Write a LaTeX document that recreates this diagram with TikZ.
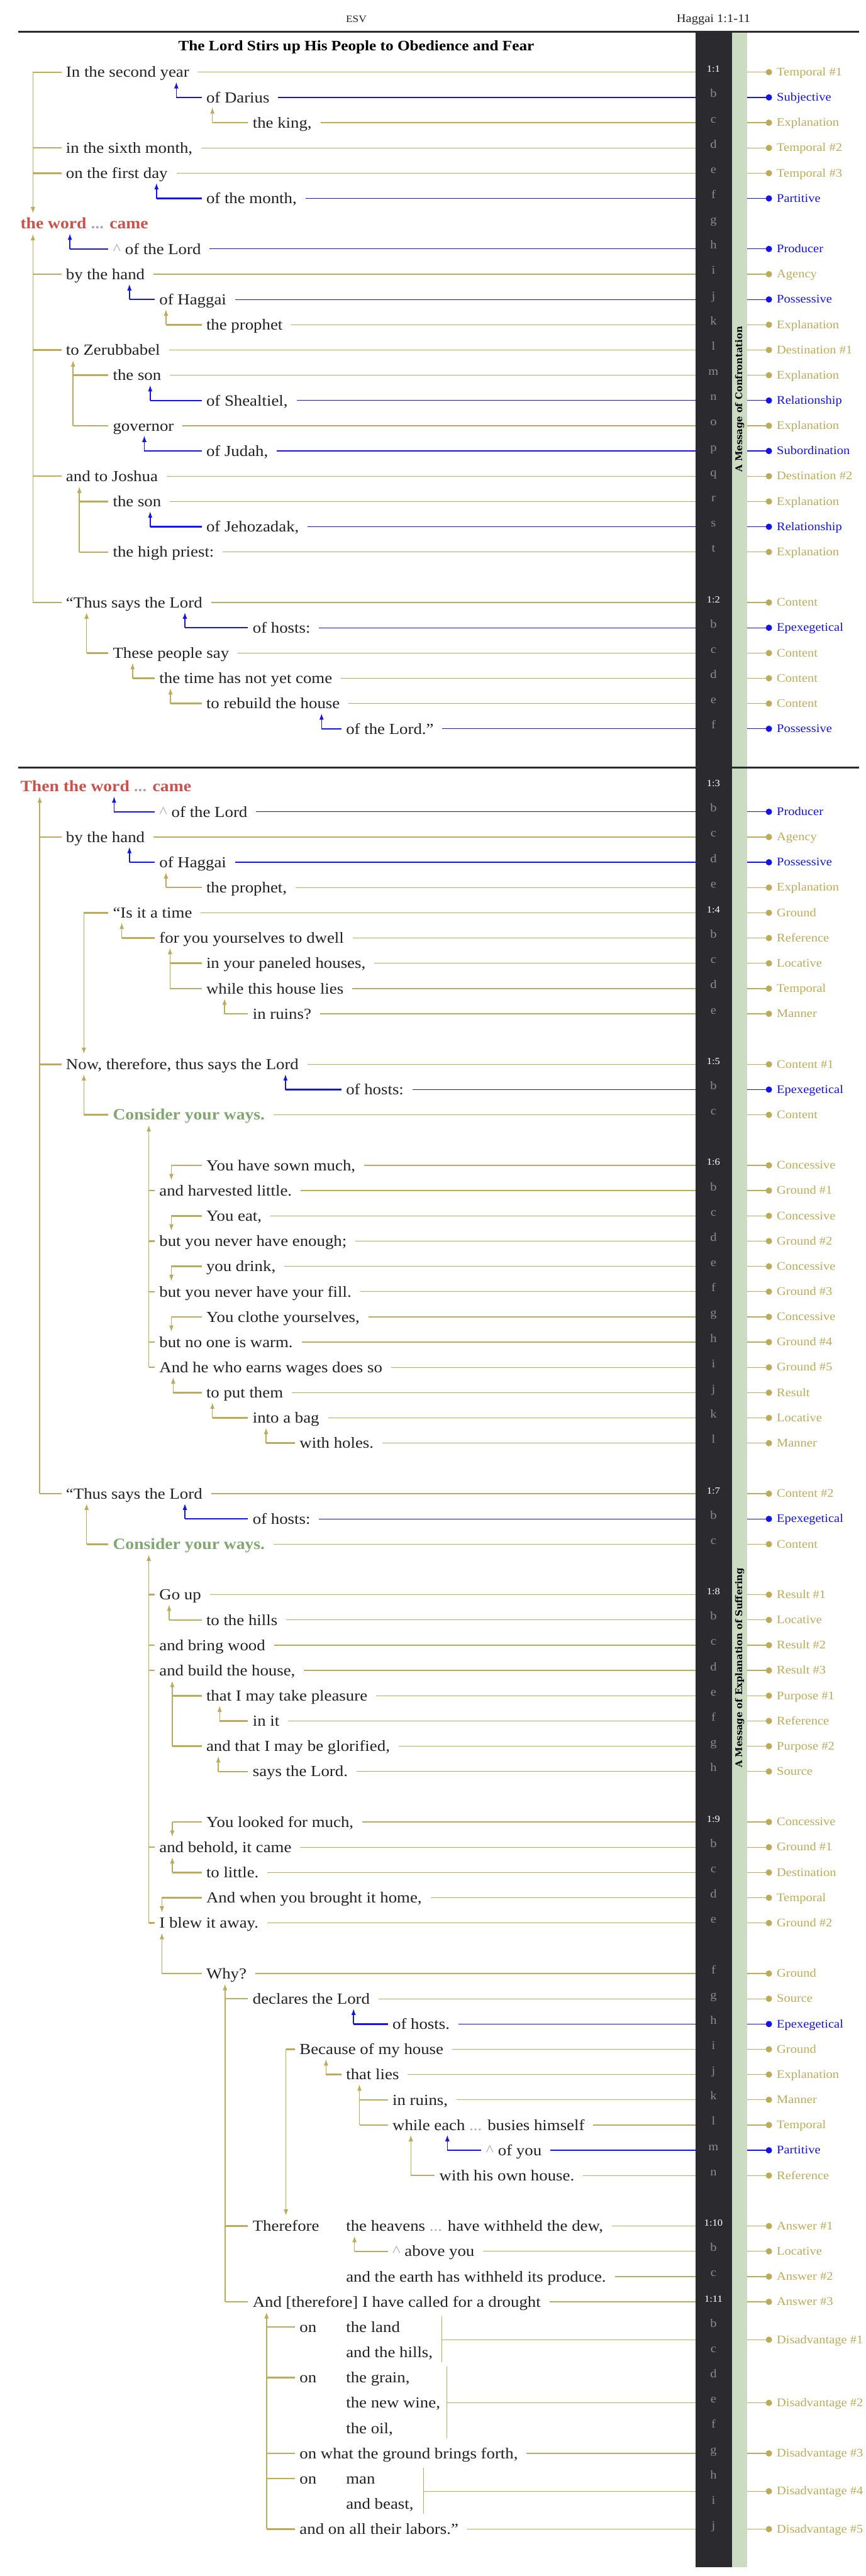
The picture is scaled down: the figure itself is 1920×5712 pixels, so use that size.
\documentclass[tikz,border=0pt]{standalone}
\usepackage{fontspec}
\setmainfont{Liberation Serif}[FakeStretch=1.1]
\newfontfamily\vfont{DejaVu Serif}
\usetikzlibrary{arrows.meta}
\definecolor{gold}{HTML}{BDAB58}
\definecolor{blu}{HTML}{1414E6}
\definecolor{redw}{HTML}{C9524A}
\definecolor{grn}{HTML}{82A872}
\definecolor{dbar}{HTML}{2B2B2F}
\definecolor{gbar}{HTML}{CBDCC3}
\definecolor{ltr}{HTML}{8C8C8C}
\definecolor{ell}{HTML}{AAAAAA}
\definecolor{ink}{HTML}{222222}
\tikzset{
  txt/.style={anchor=west, inner sep=0pt, text height=11.5pt, text depth=0pt, font=\fontsize{17}{20}\selectfont, text=ink},
  lab/.style={anchor=west, inner sep=0pt, text height=8pt, text depth=0pt, font=\fontsize{13}{15}\selectfont},
  dot/.style={circle, inner sep=0pt, minimum size=7pt},
  conn/.style={line width=0.9pt},
  stub/.style={line width=1.7pt},
  vl/.style={line width=1pt},
  tip/.style={-{Latex[length=7pt,width=5pt]}},
  thinl/.style={line width=0.6pt, color=gold},
  barl/.style={anchor=base, inner sep=0pt, text=ltr, font=\fontsize{13}{15}\selectfont},
  vnum/.style={anchor=base, inner sep=0pt, text=white, font=\fontsize{10.5}{12}\selectfont},
  redt/.style={font=\fontsize{17.5}{20}\selectfont\bfseries, text=redw},
  cyw/.style={font=\fontsize{17.5}{20}\selectfont\bfseries, text=grn},
}
\newcommand\myel{\textcolor{ell}{...}}
\newcommand\mycaret{\textcolor{ell}{\textasciicircum}\ }
\newcommand\MyRow[7][]{%
  \node[txt,#1] (t#2) at (#4,#3) {#5};
  \node[dot,fill=#6] (d#2) at (1705,#3) {};
  \node[lab,text=#6] (l#2) at (1722,#3) {#7};
  \draw[conn,draw=#6] ([xshift=9.5pt]t#2.east) -- (d#2.center);
}
\newcommand\MyStub[3]{\draw[stub,color=#3] ([xshift=-5pt]#1.west) -- (#2,0 |- #1.west);}
\newcommand\MyUp[4][34]{%
  \draw[stub,color=#4] ([xshift=-5pt]#2.west) -- (#3,0 |- #2.west);
  \draw[vl,tip,color=#4] (#3,0 |- #2.west) -- ++(0,-#1);
}
\newcommand\MyDown[4][33]{%
  \draw[stub,color=#4] ([xshift=-5pt]#2.west) -- (#3,0 |- #2.west);
  \draw[vl,tip,color=#4] (#3,0 |- #2.west) -- ++(0,#1);
}
\begin{document}
\begin{tikzpicture}[x=0.5pt,y=-0.5pt]
\fill[white] (0,0) rectangle (1920,5712);
\useasboundingbox (0,0) rectangle (1920,5712);

% ---------- Section 1 ----------
\MyRow{1a}{160}{146}{In the second year}{gold}{Temporal \#1}
\MyRow{1b}{216}{457}{of Darius}{blu}{Subjective}
\MyRow{1c}{272}{560}{the king,}{gold}{Explanation}
\MyRow{1d}{328}{146}{in the sixth month,}{gold}{Temporal \#2}
\MyRow{1e}{384}{146}{on the first day}{gold}{Temporal \#3}
\MyRow{1f}{440}{457}{of the month,}{blu}{Partitive}
\node[txt,redt] (t1g) at (45,496) {the word \myel{} came};
\MyRow{1h}{552}{250}{\mycaret of the Lord}{blu}{Producer}
\MyRow{1i}{608}{146}{by the hand}{gold}{Agency}
\MyRow{1j}{664}{353}{of Haggai}{blu}{Possessive}
\MyRow{1k}{720}{457}{the prophet}{gold}{Explanation}
\MyRow{1l}{776}{146}{to Zerubbabel}{gold}{Destination \#1}
\MyRow{1m}{832}{250}{the son}{gold}{Explanation}
\MyRow{1n}{888}{457}{of Shealtiel,}{blu}{Relationship}
\MyRow{1o}{944}{250}{governor}{gold}{Explanation}
\MyRow{1p}{1000}{457}{of Judah,}{blu}{Subordination}
\MyRow{1q}{1056}{146}{and to Joshua}{gold}{Destination \#2}
\MyRow{1r}{1112}{250}{the son}{gold}{Explanation}
\MyRow{1s}{1168}{457}{of Jehozadak,}{blu}{Relationship}
\MyRow{1t}{1224}{250}{the high priest:}{gold}{Explanation}
\MyRow{2a}{1336}{146}{“Thus says the Lord}{gold}{Content}
\MyRow{2b}{1392}{560}{of hosts:}{blu}{Epexegetical}
\MyRow{2c}{1448}{250}{These people say}{gold}{Content}
\MyRow{2d}{1504}{353}{the time has not yet come}{gold}{Content}
\MyRow{2e}{1560}{457}{to rebuild the house}{gold}{Content}
\MyRow{2f}{1616}{767}{of the Lord.”}{blu}{Possessive}

\draw[vl,tip,color=gold] (73,0 |- t1a.west) -- (73,473);
\MyStub{t1a}{73}{gold}\MyStub{t1d}{73}{gold}\MyStub{t1e}{73}{gold}
\MyUp{t1b}{391}{blu}
\MyUp{t1c}{471}{gold}
\MyUp{t1f}{347}{blu}
\MyUp{t1h}{155}{blu}
\draw[vl,tip,color=gold] (73,0 |- t2a.west) -- (73,519);
\MyStub{t1i}{73}{gold}\MyStub{t1l}{73}{gold}\MyStub{t1q}{73}{gold}\MyStub{t2a}{73}{gold}
\MyUp{t1j}{287}{blu}
\MyUp{t1k}{368}{gold}
\draw[vl,tip,color=gold] (162,0 |- t1o.west) -- (162,799);
\MyStub{t1m}{162}{gold}\MyStub{t1o}{162}{gold}
\MyUp{t1n}{333}{blu}
\MyUp{t1p}{320}{blu}
\draw[vl,tip,color=gold] (176,0 |- t1t.west) -- (176,1079);
\MyStub{t1r}{176}{gold}\MyStub{t1t}{176}{gold}
\MyUp{t1s}{333}{blu}
\MyUp{t2b}{410}{blu}
\MyUp[90]{t2c}{192}{gold}
\MyUp{t2d}{294}{gold}
\MyUp{t2e}{378}{gold}
\MyUp{t2f}{713}{blu}

% ---------- Section 2 ----------
\node[txt,redt] (t3a) at (45,1744) {Then the word \myel{} came};
\MyRow{3b}{1800}{353}{\mycaret of the Lord}{blu}{Producer}
\MyRow{3c}{1856}{146}{by the hand}{gold}{Agency}
\MyRow{3d}{1912}{353}{of Haggai}{blu}{Possessive}
\MyRow{3e}{1968}{457}{the prophet,}{gold}{Explanation}
\MyRow{4a}{2024}{250}{“Is it a time}{gold}{Ground}
\MyRow{4b}{2080}{353}{for you yourselves to dwell}{gold}{Reference}
\MyRow{4c}{2136}{457}{in your paneled houses,}{gold}{Locative}
\MyRow{4d}{2192}{457}{while this house lies}{gold}{Temporal}
\MyRow{4e}{2248}{560}{in ruins?}{gold}{Manner}
\MyRow{5a}{2360}{146}{Now, therefore, thus says the Lord}{gold}{Content \#1}
\MyRow{5b}{2416}{767}{of hosts:}{blu}{Epexegetical}
\MyRow[cyw]{5c}{2472}{250}{Consider your ways.}{gold}{Content}
\MyRow{6a}{2584}{457}{You have sown much,}{gold}{Concessive}
\MyRow{6b}{2640}{353}{and harvested little.}{gold}{Ground \#1}
\MyRow{6c}{2696}{457}{You eat,}{gold}{Concessive}
\MyRow{6d}{2752}{353}{but you never have enough;}{gold}{Ground \#2}
\MyRow{6e}{2808}{457}{you drink,}{gold}{Concessive}
\MyRow{6f}{2864}{353}{but you never have your fill.}{gold}{Ground \#3}
\MyRow{6g}{2920}{457}{You clothe yourselves,}{gold}{Concessive}
\MyRow{6h}{2976}{353}{but no one is warm.}{gold}{Ground \#4}
\MyRow{6i}{3032}{353}{And he who earns wages does so}{gold}{Ground \#5}
\MyRow{6j}{3088}{457}{to put them}{gold}{Result}
\MyRow{6k}{3144}{560}{into a bag}{gold}{Locative}
\MyRow{6l}{3200}{664}{with holes.}{gold}{Manner}
\MyRow{7a}{3312}{146}{“Thus says the Lord}{gold}{Content \#2}
\MyRow{7b}{3368}{560}{of hosts:}{blu}{Epexegetical}
\MyRow[cyw]{7c}{3424}{250}{Consider your ways.}{gold}{Content}
\MyRow{8a}{3536}{353}{Go up}{gold}{Result \#1}
\MyRow{8b}{3592}{457}{to the hills}{gold}{Locative}
\MyRow{8c}{3648}{353}{and bring wood}{gold}{Result \#2}
\MyRow{8d}{3704}{353}{and build the house,}{gold}{Result \#3}
\MyRow{8e}{3760}{457}{that I may take pleasure}{gold}{Purpose \#1}
\MyRow{8f}{3816}{560}{in it}{gold}{Reference}
\MyRow{8g}{3872}{457}{and that I may be glorified,}{gold}{Purpose \#2}
\MyRow{8h}{3928}{560}{says the Lord.}{gold}{Source}
\MyRow{9a}{4040}{457}{You looked for much,}{gold}{Concessive}
\MyRow{9b}{4096}{353}{and behold, it came}{gold}{Ground \#1}
\MyRow{9c}{4152}{457}{to little.}{gold}{Destination}
\MyRow{9d}{4208}{457}{And when you brought it home,}{gold}{Temporal}
\MyRow{9e}{4264}{353}{I blew it away.}{gold}{Ground \#2}
\MyRow{9f}{4376}{457}{Why?}{gold}{Ground}
\MyRow{9g}{4432}{560}{declares the Lord}{gold}{Source}
\MyRow{9h}{4488}{870}{of hosts.}{blu}{Epexegetical}
\MyRow{9i}{4544}{664}{Because of my house}{gold}{Ground}
\MyRow{9j}{4600}{767}{that lies}{gold}{Explanation}
\MyRow{9k}{4656}{870}{in ruins,}{gold}{Manner}
\MyRow{9l}{4712}{870}{while each \myel{} busies himself}{gold}{Temporal}
\MyRow{9m}{4768}{1077}{\mycaret of you}{blu}{Partitive}
\MyRow{9n}{4824}{974}{with his own house.}{gold}{Reference}
\node[txt] (t10t) at (560,4936) {Therefore};
\MyRow{10a}{4936}{767}{the heavens \myel{} have withheld the dew,}{gold}{Answer \#1}
\MyRow{10b}{4992}{870}{\mycaret above you}{gold}{Locative}
\MyRow{10c}{5048}{767}{and the earth has withheld its produce.}{gold}{Answer \#2}
\MyRow{11a}{5104}{560}{And [therefore] I have called for a drought}{gold}{Answer \#3}
% grouped 11b-c
\node[txt] (t11b) at (664,5160) {on};
\node[txt] (t11bb) at (767,5160) {the land};
\node[txt] (t11c) at (767,5216) {and the hills,};
\coordinate (g11b) at (980,5188);
\node[dot,fill=gold] (d11b) at (1705,5188) {};
\node[lab,text=gold] (l11b) at (1722,5188) {Disadvantage \#1};
\draw[thinl] (980,5136) -- (980,5238);
\draw[conn,draw=gold] (g11b) -- (d11b.center);
% grouped 11d-f
\node[txt] (t11d) at (664,5272) {on};
\node[txt] (t11dd) at (767,5272) {the grain,};
\node[txt] (t11e) at (767,5328) {the new wine,};
\node[txt] (t11f) at (767,5384) {the oil,};
\coordinate (g11e) at (991,5328);
\node[dot,fill=gold] (d11e) at (1705,5328) {};
\node[lab,text=gold] (l11e) at (1722,5328) {Disadvantage \#2};
\draw[thinl] (991,5248) -- (991,5406);
\draw[conn,draw=gold] (g11e) -- (d11e.center);
\MyRow{11g}{5440}{664}{on what the ground brings forth,}{gold}{Disadvantage \#3}
% grouped 11h-i
\node[txt] (t11h) at (664,5496) {on};
\node[txt] (t11hh) at (767,5496) {man};
\node[txt] (t11i) at (767,5552) {and beast,};
\coordinate (g11h) at (939,5524);
\node[dot,fill=gold] (d11h) at (1705,5524) {};
\node[lab,text=gold] (l11h) at (1722,5524) {Disadvantage \#4};
\draw[thinl] (939,5472) -- (939,5574);
\draw[conn,draw=gold] (g11h) -- (d11h.center);
\MyRow{11j}{5608}{664}{and on all their labors.”}{gold}{Disadvantage \#5}

% brackets section 2
\draw[vl,tip,color=gold] (88,0 |- t7a.west) -- (88,1766);
\MyStub{t3c}{88}{gold}\MyStub{t5a}{88}{gold}\MyStub{t7a}{88}{gold}
\MyUp{t3b}{253}{blu}
\MyUp{t3d}{287}{blu}
\MyUp{t3e}{368}{gold}
\MyDown[313]{t4a}{186}{gold}
\MyUp{t4b}{270}{gold}
\draw[vl,tip,color=gold] (377,0 |- t4d.west) -- (377,2102);
\MyStub{t4c}{377}{gold}\MyStub{t4d}{377}{gold}
\MyUp{t4e}{498}{gold}
\MyUp{t5b}{633}{blu}
\MyUp[90]{t5c}{186}{gold}
\draw[vl,tip,color=gold] (330,0 |- t6i.west) -- (330,2495);
\MyStub{t6b}{330}{gold}\MyStub{t6d}{330}{gold}\MyStub{t6f}{330}{gold}\MyStub{t6h}{330}{gold}\MyStub{t6i}{330}{gold}
\MyDown{t6a}{380}{gold}
\MyDown{t6c}{380}{gold}
\MyDown{t6e}{380}{gold}
\MyDown{t6g}{380}{gold}
\MyUp{t6j}{384}{gold}
\MyUp{t6k}{471}{gold}
\MyUp{t6l}{590}{gold}
\MyUp{t7b}{410}{blu}
\MyUp[90]{t7c}{192}{gold}
\draw[vl,tip,color=gold] (330,0 |- t9e.west) -- (330,3447);
\MyStub{t8a}{330}{gold}\MyStub{t8c}{330}{gold}\MyStub{t8d}{330}{gold}\MyStub{t9b}{330}{gold}\MyStub{t9e}{330}{gold}
\MyUp{t8b}{375}{gold}
\draw[vl,tip,color=gold] (382,0 |- t8g.west) -- (382,3727);
\MyStub{t8e}{382}{gold}\MyStub{t8g}{382}{gold}
\MyUp{t8f}{487}{gold}
\MyUp{t8h}{484}{gold}
\MyDown{t9a}{382}{gold}
\MyUp{t9c}{382}{gold}
\MyDown{t9d}{359}{gold}
\MyUp[90]{t9f}{359}{gold}
\draw[vl,tip,color=gold] (499,0 |- t11a.west) -- (499,4399);
\MyStub{t9g}{499}{gold}\MyStub{t10t}{499}{gold}\MyStub{t11a}{499}{gold}
\MyUp{t9h}{784}{blu}
\MyDown[369]{t9i}{634}{gold}
\MyUp{t9j}{723}{gold}
\draw[vl,tip,color=gold] (797,0 |- t9l.west) -- (797,4622);
\MyStub{t9k}{797}{gold}\MyStub{t9l}{797}{gold}
\MyUp{t9m}{992}{blu}
\MyUp[90]{t9n}{911}{gold}
\MyUp{t10b}{786}{gold}
\draw[vl,tip,color=gold] (591,0 |- t11j.west) -- (591,5127);
\MyStub{t11b}{591}{gold}\MyStub{t11d}{591}{gold}\MyStub{t11g}{591}{gold}\MyStub{t11h}{591}{gold}\MyStub{t11j}{591}{gold}

% ---------- bars ----------
\fill[dbar] (1542,72) rectangle (1623,5692);
\fill[gbar] (1623,72) rectangle (1657,5692);
\foreach \yy/\ll in {216/b,272/c,328/d,384/e,440/f,496/g,552/h,608/i,664/j,720/k,776/l,832/m,888/n,944/o,1000/p,1056/q,1112/r,1168/s,1224/t,
  1392/b,1448/c,1504/d,1560/e,1616/f,
  1800/b,1856/c,1912/d,1968/e,
  2080/b,2136/c,2192/d,2248/e,
  2416/b,2472/c,
  2640/b,2696/c,2752/d,2808/e,2864/f,2920/g,2976/h,3032/i,3088/j,3144/k,3200/l,
  3368/b,3424/c,
  3592/b,3648/c,3704/d,3760/e,3816/f,3872/g,3928/h,
  4096/b,4152/c,4208/d,4264/e,4376/f,4432/g,4488/h,4544/i,4600/j,4656/k,4712/l,4768/m,4824/n,
  4992/b,5048/c,
  5160/b,5216/c,5272/d,5328/e,5384/f,5440/g,5496/h,5552/i,5608/j}
  \node[barl] (bl\yy) at (1582,\yy) {\ll};
\foreach \yy/\ll in {160/1:1,1336/1:2,1744/1:3,2024/1:4,2360/1:5,2584/1:6,3312/1:7,3536/1:8,4040/1:9,4936/1:10,5104/1:11}
  \node[vnum] (vn\yy) at (1582,\yy) {\ll};

\node[rotate=90, inner sep=0pt, font={\vfont\bfseries\fontsize{10.3}{12}\selectfont}, text=black] (vt1) at (1640,885) {A Message of Confrontation};
\node[rotate=90, inner sep=0pt, font={\vfont\bfseries\fontsize{10.3}{12}\selectfont}, text=black] (vt2) at (1640,3698) {A Message of Explanation of Suffering};

% ---------- header ----------
\fill[dbar] (41,68) rectangle (1905,72);
\fill[dbar] (41,1700) rectangle (1905,1704);
\node[anchor=base, inner sep=0pt, font=\fontsize{11}{13}\selectfont, text=ink] (esv) at (790,49) {ESV};
\node[anchor=base, inner sep=0pt, font=\fontsize{13}{15}\selectfont, text=ink] (ref) at (1582,50) {Haggai 1:1-11};
\node[anchor=base, inner sep=0pt, font=\fontsize{16}{19}\selectfont\bfseries, text=black] (title) at (790,112) {The Lord Stirs up His People to Obedience and Fear};
\end{tikzpicture}
\end{document}
